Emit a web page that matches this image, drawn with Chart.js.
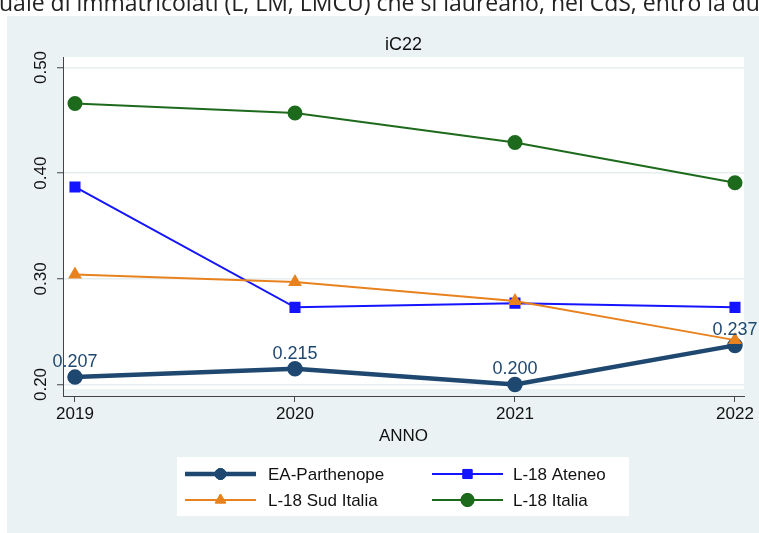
<!DOCTYPE html>
<html>
<head>
<meta charset="utf-8">
<script src="https://cdn.jsdelivr.net/npm/chart.js@4.4.1/dist/chart.umd.min.js"></script>
<style>
  html, body { margin: 0; padding: 0; background: #fff; }
  #wrap { width: 759px; height: 533px; position: relative; }
</style>
</head>
<body>
<div id="wrap"><canvas id="chart" width="759" height="533"></canvas></div>
<script>
// ---- data ----
const years = [2019, 2020, 2021, 2022];
const eaParthenope = [0.207, 0.215, 0.200, 0.237];
const l18Ateneo = [0.387, 0.273, 0.277, 0.273];
const l18SudItalia = [0.304, 0.297, 0.279, 0.242];
const l18Italia = [0.466, 0.457, 0.429, 0.391];
const yTicks = [0.20, 0.30, 0.40, 0.50];
const chartTitle = 'iC22';
const xTitle = 'ANNO';
const headerText = 'uale di immatricolati (L, LM, LMCU) che si laureano, nel CdS, entro la du';

const FONT = "'Liberation Sans', Arial, sans-serif";
const NAVY = '#1f4870';

function pts(vals) {
  return years.map((y, i) => ({ x: y, y: vals[i] }));
}

/* ===== background, plot region, title ===== */
const backdropPlugin = {
  id: 'backdrop',
  beforeDraw(chart) {
    const ctx = chart.ctx;
    const a = chart.chartArea;
    ctx.save();
    ctx.fillStyle = '#ffffff';
    ctx.fillRect(0, 0, chart.width, chart.height);
    ctx.fillStyle = '#eaf2f3';
    ctx.fillRect(7, 16, chart.width - 7, chart.height - 16);
    // white plot region
    ctx.fillStyle = '#ffffff';
    ctx.fillRect(a.left, a.top, a.right - a.left, a.bottom - a.top - 7);
    // cut-off header line above the graph
    ctx.fillStyle = '#222';
    ctx.font = "23px 'Open Sans', sans-serif";
    ctx.textBaseline = 'alphabetic';
    ctx.textAlign = 'left';
    ctx.fillText(headerText, -1, 11);
    // title
    ctx.fillStyle = '#111';
    ctx.font = '18px ' + FONT;
    ctx.textAlign = 'center';
    ctx.textBaseline = 'middle';
    ctx.fillText(chartTitle, (a.left + a.right) / 2, 45);
    ctx.restore();
  }
};

/* ===== value labels on EA-Parthenope ===== */
const valueLabelsPlugin = {
  id: 'valueLabels',
  afterDatasetsDraw(chart) {
    const ctx = chart.ctx;
    const meta = chart.getDatasetMeta(0);
    ctx.save();
    ctx.fillStyle = NAVY;
    ctx.font = '18px ' + FONT;
    ctx.textAlign = 'center';
    ctx.textBaseline = 'middle';
    meta.data.forEach((p, i) => {
      ctx.fillText(eaParthenope[i].toFixed(3), p.x, p.y - 15);
    });
    ctx.restore();
  }
};

/* ===== rotated y labels, x title, legend ===== */
const decorPlugin = {
  id: 'decor',
  afterDraw(chart) {
    const ctx = chart.ctx;
    const ys = chart.scales.y;
    const a = chart.chartArea;
    ctx.save();
    ctx.fillStyle = '#111';
    ctx.font = '17px ' + FONT;
    ctx.textAlign = 'center';
    ctx.textBaseline = 'middle';
    yTicks.forEach(v => {
      const y = ys.getPixelForValue(v);
      ctx.save();
      ctx.translate(41, y);
      ctx.rotate(-Math.PI / 2);
      ctx.fillText(v.toFixed(2), 0, 0);
      ctx.restore();
    });
    ctx.fillText(xTitle, (a.left + a.right) / 2, 436);

    // legend box
    ctx.fillStyle = '#ffffff';
    ctx.fillRect(177, 457, 452, 59);
    const colX = [185, 432];
    const rowY = [474, 500];
    const sampleW = 71;
    chart.data.datasets.forEach((ds, i) => {
      const x0 = colX[i % 2];
      const y0 = rowY[Math.floor(i / 2)];
      ctx.strokeStyle = ds.borderColor;
      ctx.lineWidth = ds.borderWidth;
      ctx.beginPath();
      ctx.moveTo(x0, y0);
      ctx.lineTo(x0 + sampleW, y0);
      ctx.stroke();
      ctx.fillStyle = ds.pointBackgroundColor;
      ctx.strokeStyle = ds.pointBorderColor;
      ctx.lineWidth = 1;
      Chart.helpers.drawPoint(ctx, {
        pointStyle: ds.pointStyle, radius: ds.pointRadius, rotation: 0, borderWidth: 1
      }, x0 + sampleW / 2, y0);
      ctx.fill();
      ctx.stroke();
      ctx.fillStyle = '#111';
      ctx.textAlign = 'left';
      ctx.font = '17px ' + FONT;
      ctx.fillText(ds.label, x0 + sampleW + 12 + (i % 2 ? -2 : 0), y0 + 1);
    });
    ctx.restore();
  }
};

const chart = new Chart(document.getElementById('chart'), {
  type: 'line',
  data: {
    datasets: [
      {
        label: 'EA-Parthenope', data: pts(eaParthenope), order: 4,
        borderColor: NAVY, borderWidth: 4.5,
        pointStyle: 'circle', pointRadius: 5.5,
        pointBackgroundColor: NAVY, pointBorderColor: NAVY
      },
      {
        label: 'L-18 Ateneo', data: pts(l18Ateneo), order: 3,
        borderColor: '#1414ff', borderWidth: 2,
        pointStyle: 'rect', pointRadius: 6.4,
        pointBackgroundColor: '#1414ff', pointBorderColor: '#1414ff'
      },
      {
        label: 'L-18 Sud Italia', data: pts(l18SudItalia), order: 2,
        borderColor: '#e8821e', borderWidth: 2,
        pointStyle: 'triangle', pointRadius: 6,
        pointBackgroundColor: '#e8821e', pointBorderColor: '#e8821e'
      },
      {
        label: 'L-18 Italia', data: pts(l18Italia), order: 1,
        borderColor: '#1d6a1d', borderWidth: 2,
        pointStyle: 'circle', pointRadius: 6.5,
        pointBackgroundColor: '#1d6a1d', pointBorderColor: '#1d6a1d'
      }
    ]
  },
  options: {
    responsive: false,
    animation: false,
    devicePixelRatio: 1,
    layout: { padding: { left: 0, top: 57, right: 15, bottom: 107 } },
    elements: { line: { tension: 0 }, point: { borderWidth: 1, hoverRadius: 6 } },
    scales: {
      x: {
        type: 'linear',
        min: 2018.9455,
        max: 2022.041,
        afterBuildTicks(s) { s.ticks = years.map(v => ({ value: v })); },
        afterFit(s) { s.height = 30; },
        ticks: {
          color: '#111', font: { family: FONT, size: 17 }, padding: 2,
          callback: v => String(v), maxRotation: 0, autoSkip: false
        },
        grid: { drawOnChartArea: false, tickLength: 6, tickColor: '#444', tickWidth: 1 },
        border: { color: '#444', width: 1 }
      },
      y: {
        min: 0.18912,
        max: 0.50994,
        afterBuildTicks(s) { s.ticks = yTicks.map(v => ({ value: v })); },
        afterFit(s) { s.width = 63; },
        ticks: { display: false },
        grid: { color: '#e6eef0', lineWidth: 1.5, tickLength: 6, tickColor: '#444', tickWidth: 1 },
        border: { color: '#444', width: 1 }
      }
    },
    plugins: {
      legend: { display: false },
      tooltip: { enabled: false },
      title: { display: false }
    }
  },
  plugins: [backdropPlugin, valueLabelsPlugin, decorPlugin]
});
</script>
</body>
</html>
